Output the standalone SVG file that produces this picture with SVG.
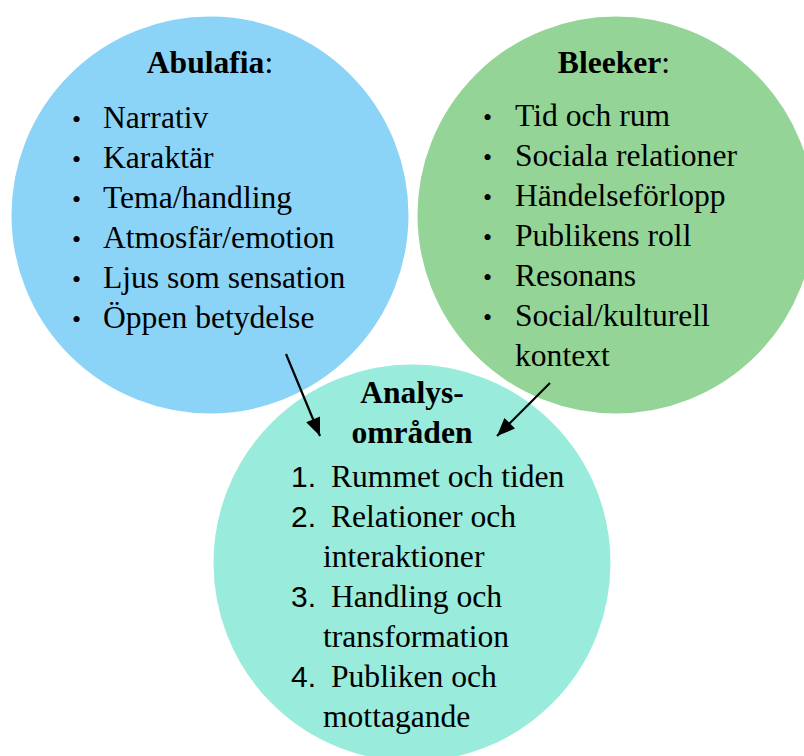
<svg xmlns="http://www.w3.org/2000/svg" width="804" height="756" viewBox="0 0 804 756">
<style>
.t{font-family:"Liberation Serif","Times New Roman",serif;font-size:31.6px;fill:#000}
.b{font-weight:bold}
.n{font-family:"Liberation Sans",Arial,sans-serif;font-size:30px;fill:#000}
.bul{font-family:"Liberation Serif",serif;font-size:26px;fill:#000}
.c{stroke:#fff;stroke-width:3}
.conn line{stroke:#000;stroke-width:2.2}
</style>
<defs>
<marker id="a" viewBox="0 0 18 15" refX="18" refY="7.5" markerWidth="19" markerHeight="15" markerUnits="userSpaceOnUse" orient="auto">
<path d="M0,0 L18,7.5 L0,15 z" fill="#000"/>
</marker>
</defs>
<rect width="804" height="756" fill="#fff"/>
<g id="abulafia">
<circle class="c" cx="210" cy="215" r="200" fill="#8cd4f7"/>
<text class="t" x="210" y="73" text-anchor="middle"><tspan class="b">Abulafia</tspan>:</text>
<text class="bul" x="72" y="128">•</text><text class="t" x="103" y="128">Narrativ</text>
<text class="bul" x="72" y="168">•</text><text class="t" x="103" y="168">Karaktär</text>
<text class="bul" x="72" y="208">•</text><text class="t" x="103" y="208">Tema/handling</text>
<text class="bul" x="72" y="248">•</text><text class="t" x="103" y="248">Atmosfär/emotion</text>
<text class="bul" x="72" y="288">•</text><text class="t" x="103" y="288">Ljus som sensation</text>
<text class="bul" x="72" y="328">•</text><text class="t" x="103" y="328">Öppen betydelse</text>
</g>
<g id="bleeker">
<circle class="c" cx="616" cy="215" r="200" fill="#94d597"/>
<text class="t" x="614" y="73" text-anchor="middle"><tspan class="b">Bleeker</tspan>:</text>
<text class="bul" x="483" y="126">•</text><text class="t" x="515" y="126">Tid och rum</text>
<text class="bul" x="483" y="166">•</text><text class="t" x="515" y="166">Sociala relationer</text>
<text class="bul" x="483" y="206">•</text><text class="t" x="515" y="206">Händelseförlopp</text>
<text class="bul" x="483" y="246">•</text><text class="t" x="515" y="246">Publikens roll</text>
<text class="bul" x="483" y="286">•</text><text class="t" x="515" y="286">Resonans</text>
<text class="bul" x="483" y="326">•</text><text class="t" x="515" y="326">Social/kulturell</text>
<text class="t" x="515" y="366">kontext</text>
</g>
<g id="analys">
<circle class="c" cx="412" cy="563" r="200" fill="#99ebdc"/>
<text class="t b" x="412" y="403" text-anchor="middle">Analys-</text>
<text class="t b" x="412" y="443" text-anchor="middle">områden</text>
<text class="n" x="291" y="487">1.</text><text class="t" x="331" y="487">Rummet och tiden</text>
<text class="n" x="291" y="527">2.</text><text class="t" x="331" y="527">Relationer och</text>
<text class="t" x="323" y="567">interaktioner</text>
<text class="n" x="291" y="607">3.</text><text class="t" x="331" y="607">Handling och</text>
<text class="t" x="323" y="647">transformation</text>
<text class="n" x="291" y="687">4.</text><text class="t" x="331" y="687">Publiken och</text>
<text class="t" x="323" y="727">mottagande</text>
</g>
<g id="connectors" class="conn">
<line x1="286" y1="354" x2="320" y2="436" marker-end="url(#a)"/>
<line x1="550" y1="383" x2="497" y2="436" marker-end="url(#a)"/>
</g>
</svg>
